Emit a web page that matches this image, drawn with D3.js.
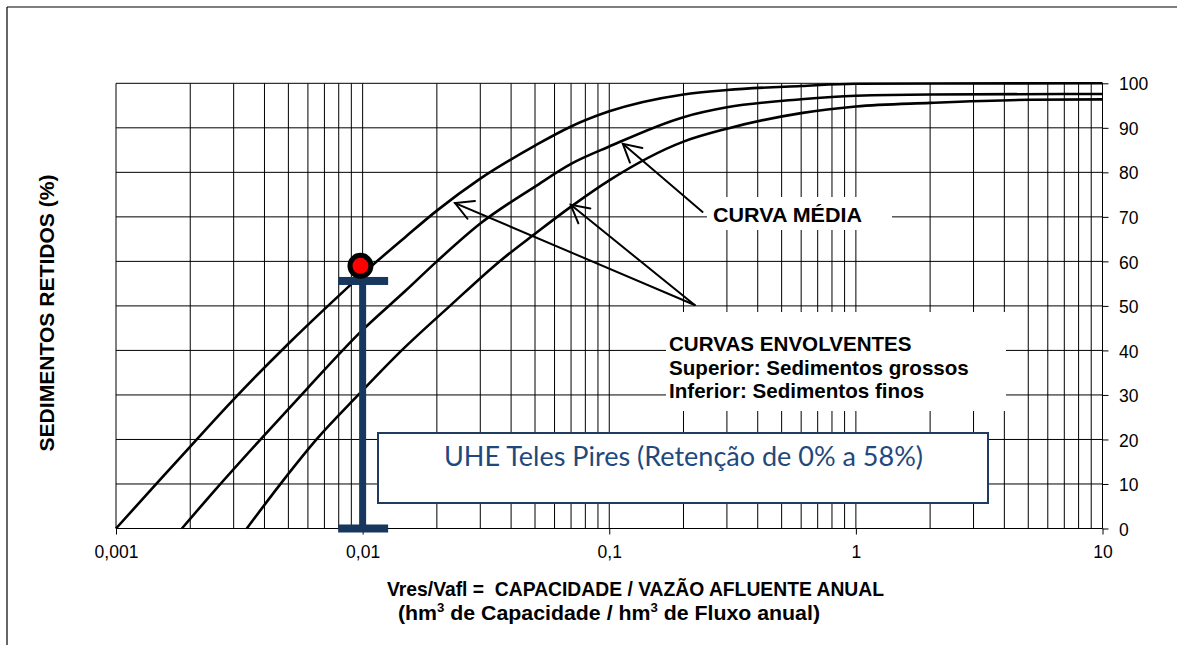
<!DOCTYPE html>
<html>
<head>
<meta charset="utf-8">
<script src="https://cdn.jsdelivr.net/npm/d3@7/dist/d3.min.js"></script>
<style>
  html, body { margin: 0; padding: 0; background: #fff; }
  svg { display: block; }
</style>
</head>
<body>
<svg id="chart" width="1177" height="645" font-family="Liberation Sans, Arial, sans-serif"></svg>
<script>
// ---------------- DATA ----------------
const xTickValues = [0.001, 0.01, 0.1, 1, 10];
const xTickLabels = ["0,001", "0,01", "0,1", "1", "10"];
const yTickValues = [0, 10, 20, 30, 40, 50, 60, 70, 80, 90, 100];

// Curva envolvente superior (sedimentos grossos)
const upperX = [0.001, 0.0015, 0.002, 0.003, 0.005, 0.0068, 0.01, 0.015, 0.02, 0.03, 0.05, 0.07, 0.1, 0.2, 0.3, 0.6, 1, 10];
const upperY = [0, 10.8, 18.4, 29, 41.5, 48.6, 57.2, 65.6, 71.4, 78.6, 86, 90.3, 93.7, 97.5, 98.5, 99.4, 99.9, 100];

// Curva média
const middleX = [0.00185, 0.0025, 0.004, 0.006, 0.01, 0.015, 0.02, 0.03, 0.05, 0.07, 0.1, 0.2, 0.3, 0.6, 1, 2, 10];
const middleY = [0, 8.4, 21, 31.6, 44.6, 53.5, 60, 68.5, 76.8, 81.9, 85.8, 92.4, 94.6, 96.4, 97.2, 97.5, 97.6];

// Curva envolvente inferior (sedimentos finos)
const lowerX = [0.00339, 0.00469, 0.0065, 0.0096, 0.0144, 0.0226, 0.0359, 0.05, 0.07, 0.1, 0.2, 0.3, 0.6, 1, 2, 5, 10];
const lowerY = [0, 10.3, 20, 30, 40, 50, 60, 66.2, 72.3, 78.2, 86.9, 89.8, 93.3, 94.8, 95.6, 96.3, 96.4];

// UHE Teles Pires
const pointX = [0.0098];
const pointY = [59];
const barX = [0.01];
const barY = [0, 55.6];

// Annotation arrows (from -> to)
const arrowFromX = [0.222, 0.222, 0.239];
const arrowFromY = [50.2, 50.2, 71.1];
const arrowToX = [0.0237, 0.0698, 0.1135];
const arrowToY = [73.1, 72.7, 86.4];

// ---------------- CHART ----------------
const svg = d3.select("#chart");
const x = d3.scaleLog().domain([0.001, 10]).range([116, 1102.5]);
const y = d3.scaleLinear().domain([0, 100]).range([528.5, 83.3]);

// outer frame (top and left only)
svg.append("line").attr("x1", 7).attr("y1", 7).attr("x2", 1177).attr("y2", 7)
  .attr("stroke", "#000").attr("stroke-width", 1.2);
svg.append("line").attr("x1", 7).attr("y1", 7).attr("x2", 7).attr("y2", 645)
  .attr("stroke", "#000").attr("stroke-width", 1.2);

// grid
const grid = svg.append("g").attr("stroke", "#000").attr("stroke-width", 1);
grid.selectAll("line.v").data(x.ticks()).join("line")
  .attr("class", "v")
  .attr("x1", d => x(d)).attr("x2", d => x(d))
  .attr("y1", y(0)).attr("y2", y(100));
grid.selectAll("line.h").data(yTickValues).join("line")
  .attr("class", "h")
  .attr("x1", x(0.001)).attr("x2", x(10))
  .attr("y1", d => y(d)).attr("y2", d => y(d));

// axes
const yAxis = d3.axisRight(y).tickValues(yTickValues).tickSize(6).tickSizeOuter(0).tickPadding(10.5);
const gy = svg.append("g").attr("transform", `translate(${x(10)},0)`).call(yAxis);
gy.select(".domain").remove();
gy.attr("font-family", null).attr("font-size", null);
gy.selectAll("text").style("font-size", "17.5px").attr("fill", "#000").attr("dy", "0.38em")
  .style("font-family", "Liberation Sans, Arial, sans-serif");
gy.selectAll(".tick line").attr("stroke", "#000");

const xAxis = d3.axisBottom(x).tickValues(xTickValues).tickSize(6).tickSizeOuter(0)
  .tickFormat((d, i) => xTickLabels[i]);
const gx = svg.append("g").attr("transform", `translate(0,${y(0)})`).call(xAxis);
gx.select(".domain").remove();
gx.attr("font-family", null).attr("font-size", null);
gx.selectAll("text").style("font-size", "17.5px").attr("fill", "#000").attr("y", 16.8).attr("dy", "0.71em")
  .style("font-family", "Liberation Sans, Arial, sans-serif");
gx.selectAll(".tick line").attr("stroke", "#000");

// white label backgrounds
svg.append("rect").attr("x", 707).attr("y", 197).attr("width", 185).attr("height", 33).attr("fill", "#fff");
svg.append("rect").attr("x", 666).attr("y", 312).attr("width", 340).attr("height", 99).attr("fill", "#fff");

// curves
const line = d3.line().x(d => x(d[0])).y(d => y(d[1])).curve(d3.curveMonotoneX);
const curves = [
  d3.zip(upperX, upperY),
  d3.zip(middleX, middleY),
  d3.zip(lowerX, lowerY)
];
svg.append("g").selectAll("path").data(curves).join("path")
  .attr("d", line)
  .attr("fill", "none").attr("stroke", "#000").attr("stroke-width", 2.6)
  .attr("stroke-linejoin", "round");

// arrows
const ag = svg.append("g").attr("stroke", "#000").attr("stroke-width", 2).attr("fill", "none")
  .attr("stroke-linecap", "round");
arrowFromX.forEach((fx, i) => {
  const x0 = x(fx), y0 = y(arrowFromY[i]);
  const x1 = x(arrowToX[i]), y1 = y(arrowToY[i]);
  ag.append("line").attr("x1", x0).attr("y1", y0).attr("x2", x1).attr("y2", y1);
  const ang = Math.atan2(y0 - y1, x0 - x1);
  const L = 20, a = 0.5;
  ag.append("path").attr("d",
    `M${x1 + L * Math.cos(ang - a)},${y1 + L * Math.sin(ang - a)}L${x1},${y1}L${x1 + L * Math.cos(ang + a)},${y1 + L * Math.sin(ang + a)}`)
    .attr("stroke-linejoin", "miter");
});

// labels
svg.append("text").attr("x", 713).attr("y", 222).style("font-size", "20.5px").attr("font-weight", "bold")
  .attr("textLength", 149).attr("lengthAdjust", "spacingAndGlyphs")
  .text("CURVA MÉDIA");
const envText = ["CURVAS ENVOLVENTES", "Superior: Sedimentos grossos", "Inferior: Sedimentos finos"];
const envBase = [350.7, 375, 398.3];
svg.append("g").selectAll("text").data(envText).join("text")
  .attr("x", 669).attr("y", (d, i) => envBase[i]).style("font-size", "20.6px").attr("font-weight", "bold")
  .text(d => d);

// UHE box
svg.append("rect").attr("x", 378).attr("y", 433).attr("width", 610).attr("height", 70)
  .attr("fill", "#fff").attr("stroke", "#1F3B60").attr("stroke-width", 2);
svg.append("text").attr("x", 444).attr("y", 466)
  .style("font-size", "26px")
  .style("font-family", "Lato, 'Open Sans', sans-serif").attr("fill", "#1F497D")
  .attr("textLength", 479).attr("lengthAdjust", "spacingAndGlyphs")
  .text("UHE Teles Pires (Retenção de 0% a 58%)");

// bar (I-beam)
const barColor = "#17375E";
const bx = x(barX[0]);
svg.append("rect").attr("x", bx - 3.5).attr("y", y(barY[1])).attr("width", 7)
  .attr("height", y(barY[0]) - y(barY[1])).attr("fill", barColor);
barY.forEach(v => {
  svg.append("rect").attr("x", bx - 24.5).attr("y", y(v) - 4).attr("width", 50).attr("height", 8)
    .attr("fill", barColor);
});

// point
svg.selectAll("circle.pt").data(d3.zip(pointX, pointY)).join("circle")
  .attr("class", "pt")
  .attr("cx", d => x(d[0])).attr("cy", d => y(d[1])).attr("r", 10.5)
  .attr("fill", "#FF0000").attr("stroke", "#000").attr("stroke-width", 5);

// axis titles
svg.append("text")
  .attr("transform", "translate(54,313) rotate(-90)")
  .attr("text-anchor", "middle").style("font-size", "20.5px").attr("font-weight", "bold")
  .attr("textLength", 277).attr("lengthAdjust", "spacingAndGlyphs")
  .text("SEDIMENTOS RETIDOS (%)");

svg.append("text").attr("x", 387).attr("y", 596).style("font-size", "21px").attr("font-weight", "bold")
  .attr("textLength", 497).attr("lengthAdjust", "spacingAndGlyphs")
  .style("white-space", "pre")
  .text("Vres/Vafl =  CAPACIDADE / VAZÃO AFLUENTE ANUAL");

const t2 = svg.append("text").attr("x", 398).attr("y", 620).style("font-size", "21px").attr("font-weight", "bold")
  .attr("textLength", 422).attr("lengthAdjust", "spacingAndGlyphs");
t2.append("tspan").text("(hm");
t2.append("tspan").style("font-size", "13px").attr("dy", -8).text("3");
t2.append("tspan").attr("dy", 8).text(" de Capacidade / hm");
t2.append("tspan").style("font-size", "13px").attr("dy", -8).text("3");
t2.append("tspan").attr("dy", 8).text(" de Fluxo anual)");
</script>
</body>
</html>
